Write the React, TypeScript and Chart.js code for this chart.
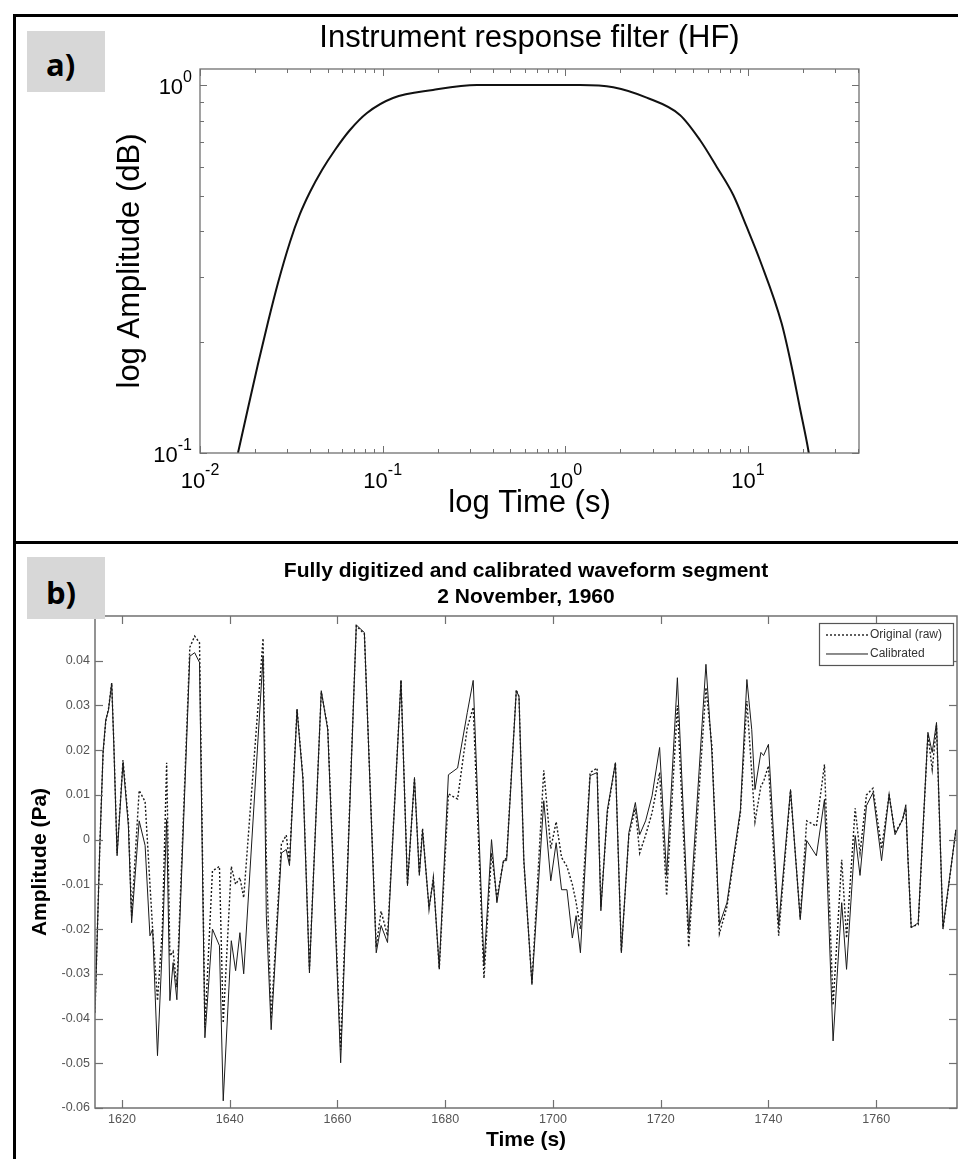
import React, { useEffect, useRef } from 'react';
import { Chart, registerables } from 'chart.js';

Chart.register(...registerables);

const FONT = "'Liberation Sans', Arial, Helvetica, sans-serif";

// ---------- Panel a: instrument response ----------
const respPeriod = [0.01614, 0.01832, 0.02077, 0.02357, 0.02672, 0.03109, 0.03526, 0.04, 0.04654, 0.05481, 0.06622, 0.08204, 0.1139, 0.1885, 0.3282, 1.0, 1.202, 1.829, 2.786, 4.238, 5.455, 6.73, 8.3, 9.82, 11.61, 15.27, 17.33, 19.23, 21.37, 21.6];
const respAmp = [0.1, 0.1325, 0.1745, 0.227, 0.2897, 0.3745, 0.4461, 0.5119, 0.5875, 0.6659, 0.7545, 0.8393, 0.9219, 0.9692, 1.0, 1.0, 1.0, 0.9857, 0.9236, 0.829, 0.7087, 0.5998, 0.5024, 0.412, 0.3345, 0.2251, 0.1716, 0.1325, 0.1019, 0.0985];
const aXDecades = [0.01, 0.1, 1, 10];
const aXExp = ['-2', '-1', '0', '1'];
const aYDecades = [0.1, 1];
const aYExp = ['-1', '0'];

// ---------- Panel b: waveform ----------
const timeS = [1615.0, 1615.9, 1616.5, 1617.0, 1617.5, 1618.1, 1618.5, 1619.1, 1620.2, 1621.2, 1621.8, 1623.2, 1624.3, 1625.2, 1625.7, 1626.6, 1627.5, 1628.3, 1628.9, 1629.5, 1630.2, 1632.6, 1633.5, 1634.4, 1635.4, 1636.8, 1638.1, 1638.8, 1640.3, 1641.1, 1641.9, 1642.6, 1646.2, 1646.8, 1647.7, 1649.6, 1650.5, 1651.1, 1652.5, 1653.6, 1654.8, 1657.0, 1658.2, 1660.6, 1663.5, 1665.0, 1667.2, 1668.1, 1669.3, 1671.8, 1673.0, 1674.3, 1675.2, 1675.8, 1677.0, 1677.8, 1678.9, 1680.6, 1682.3, 1684.1, 1685.2, 1687.2, 1688.6, 1689.6, 1690.8, 1691.4, 1693.2, 1693.7, 1694.6, 1696.1, 1698.3, 1699.6, 1700.6, 1701.6, 1702.6, 1703.6, 1704.3, 1705.1, 1706.9, 1708.2, 1708.9, 1710.1, 1711.6, 1712.7, 1714.1, 1715.3, 1716.1, 1717.2, 1718.4, 1719.8, 1721.1, 1723.1, 1725.2, 1728.4, 1729.5, 1730.9, 1732.3, 1734.8, 1736.0, 1736.9, 1737.5, 1738.6, 1739.1, 1740.0, 1741.9, 1744.1, 1745.9, 1747.1, 1748.9, 1750.4, 1752.0, 1753.6, 1754.5, 1756.1, 1757.0, 1758.2, 1759.4, 1761.0, 1762.4, 1763.5, 1764.9, 1765.5, 1765.9, 1766.5, 1767.8, 1769.6, 1770.4, 1771.2, 1772.4, 1774.8];
const calibrated = [-0.0387, -0.0013, 0.0195, 0.0268, 0.029, 0.035, 0.021, -0.0036, 0.0172, 0.003, -0.0186, 0.0042, -0.0013, -0.0215, -0.02, -0.0483, -0.0237, 0.0045, -0.036, -0.0275, -0.0358, 0.041, 0.0418, 0.0396, -0.0443, -0.02, -0.0237, -0.0584, -0.0226, -0.0293, -0.0208, -0.03, 0.041, -0.017, -0.0425, -0.003, -0.0022, -0.0058, 0.029, 0.0134, -0.0298, 0.0333, 0.0246, -0.0499, 0.048, 0.0463, -0.0253, -0.0192, -0.023, 0.0356, -0.0103, 0.0139, -0.008, 0.002, -0.0152, -0.009, -0.0286, 0.0145, 0.016, 0.0284, 0.0356, -0.0282, 0.0, -0.0141, -0.0047, -0.0047, 0.0333, 0.032, -0.0045, -0.0324, 0.0087, -0.0092, -0.0007, -0.0112, -0.0112, -0.022, -0.017, -0.0253, 0.0143, 0.015, -0.0159, 0.0067, 0.0172, -0.0253, 0.0016, 0.0083, 0.0011, 0.0042, 0.0098, 0.0206, -0.008, 0.0362, -0.0208, 0.0392, 0.0195, -0.019, -0.0141, 0.0067, 0.0358, 0.0246, 0.0112, 0.0195, 0.0188, 0.0213, -0.0192, 0.0112, -0.0179, -0.0002, -0.0036, 0.009, -0.045, -0.0141, -0.029, 0.0009, -0.008, 0.0076, 0.0105, -0.0047, 0.0101, 0.0011, 0.0045, 0.0078, -0.0045, -0.0197, -0.0186, 0.024, 0.0195, 0.0262, -0.0197, 0.0022];
const originalRaw = [-0.0387, -0.0013, 0.0195, 0.0265, 0.0292, 0.035, 0.0215, -0.003, 0.0178, 0.004, -0.017, 0.011, 0.0085, -0.01, -0.02, -0.036, -0.02, 0.0172, -0.026, -0.025, -0.033, 0.043, 0.0455, 0.044, -0.042, -0.007, -0.006, -0.041, -0.006, -0.01, -0.0085, -0.013, 0.045, -0.004, -0.04, -0.001, 0.001, -0.005, 0.0292, 0.014, -0.029, 0.033, 0.025, -0.047, 0.0478, 0.046, -0.024, -0.016, -0.0215, 0.0356, -0.01, 0.0135, -0.0075, 0.0025, -0.0155, -0.0085, -0.029, 0.0102, 0.0091, 0.025, 0.0296, -0.031, -0.003, -0.013, -0.005, -0.004, 0.0335, 0.032, -0.005, -0.032, 0.0155, -0.002, 0.004, -0.004, -0.006, -0.01, -0.014, -0.02, 0.015, 0.016, -0.015, 0.006, 0.0172, -0.025, 0.001, 0.007, -0.003, 0.001, 0.006, 0.015, -0.0125, 0.03, -0.024, 0.034, 0.021, -0.021, -0.015, 0.006, 0.031, 0.015, 0.004, 0.012, 0.013, 0.0165, -0.0215, 0.011, -0.0175, 0.0042, 0.003, 0.0168, -0.037, -0.0045, -0.022, 0.007, -0.003, 0.01, 0.0115, -0.002, 0.01, 0.0015, 0.0045, 0.007, -0.004, -0.0195, -0.019, 0.0235, 0.0157, 0.0255, -0.02, 0.0022];
const bXTicks = [1620, 1640, 1660, 1680, 1700, 1720, 1740, 1760];
const bYTicks = [-0.06, -0.05, -0.04, -0.03, -0.02, -0.01, 0, 0.01, 0.02, 0.03, 0.04];

const AXIS_COLOR = '#707070';

function seg(ctx: CanvasRenderingContext2D, x1: number, y1: number, x2: number, y2: number) {
  ctx.beginPath();
  ctx.moveTo(x1, y1);
  ctx.lineTo(x2, y2);
  ctx.stroke();
}

function drawPow(ctx: CanvasRenderingContext2D, exp: string, x: number, yBase: number, raise: number, align: 'center' | 'right') {
  ctx.font = `22px ${FONT}`;
  const wb = ctx.measureText('10').width;
  ctx.font = `16px ${FONT}`;
  const we = ctx.measureText(exp).width;
  const left = align === 'center' ? x - (wb + we) / 2 : x - wb - we;
  ctx.fillStyle = '#000';
  ctx.textAlign = 'left';
  ctx.textBaseline = 'alphabetic';
  ctx.font = `22px ${FONT}`;
  ctx.fillText('10', left, yBase);
  ctx.font = `16px ${FONT}`;
  ctx.fillText(exp, left + wb, yBase - raise);
}

const panelAAxes = {
  id: 'panelAAxes',
  afterDatasetsDraw(chart: any) {
    const { ctx, chartArea: ca, scales } = chart;
    const xs = scales.x;
    const ys = scales.y;
    ctx.save();
    ctx.strokeStyle = AXIS_COLOR;
    ctx.lineWidth = 1.3;
    ctx.strokeRect(ca.left, ca.top, ca.right - ca.left, ca.bottom - ca.top);
    ctx.lineWidth = 1;
    aXDecades.forEach((d) => {
      for (let m = 1; m <= 9; m++) {
        const v = d * m;
        if (v < xs.min * 0.999 || v > xs.max) continue;
        const px = Math.round(xs.getPixelForValue(v)) + 0.5;
        const len = m === 1 ? 7 : 4;
        seg(ctx, px, ca.bottom, px, ca.bottom - len);
        seg(ctx, px, ca.top, px, ca.top + len);
      }
    });
    aYDecades.forEach((d) => {
      for (let m = 1; m <= 9; m++) {
        const v = d * m;
        if (v < ys.min * 0.999 || v > ys.max) continue;
        const py = Math.round(ys.getPixelForValue(v)) + 0.5;
        const len = m === 1 ? 7 : 4;
        seg(ctx, ca.left, py, ca.left + len, py);
        seg(ctx, ca.right, py, ca.right - len, py);
      }
    });
    aXDecades.forEach((d, i) => drawPow(ctx, aXExp[i], xs.getPixelForValue(d), ca.bottom + 35, 13, 'center'));
    aYDecades.forEach((d, i) => drawPow(ctx, aYExp[i], ca.left - 8, ys.getPixelForValue(d) + 9, 12, 'right'));
    ctx.restore();
  },
};

const panelBAxes = {
  id: 'panelBAxes',
  afterDatasetsDraw(chart: any) {
    const { ctx, chartArea: ca, scales } = chart;
    const xs = scales.x;
    const ys = scales.y;
    ctx.save();
    ctx.strokeStyle = AXIS_COLOR;
    ctx.lineWidth = 1.5;
    ctx.strokeRect(ca.left, ca.top, ca.right - ca.left, ca.bottom - ca.top);
    ctx.lineWidth = 1.2;
    bXTicks.forEach((v) => {
      const px = Math.round(xs.getPixelForValue(v)) + 0.5;
      seg(ctx, px, ca.bottom, px, ca.bottom - 8);
      seg(ctx, px, ca.top, px, ca.top + 8);
    });
    bYTicks.forEach((v) => {
      const py = Math.round(ys.getPixelForValue(v)) + 0.5;
      seg(ctx, ca.left, py, ca.left + 8, py);
      seg(ctx, ca.right, py, ca.right - 8, py);
    });
    // legend box
    const bw = 134;
    const bh = 42;
    const bx = ca.right - 4 - bw;
    const by = ca.top + 7;
    ctx.fillStyle = '#fff';
    ctx.fillRect(bx, by, bw, bh);
    ctx.strokeStyle = '#555';
    ctx.lineWidth = 1.2;
    ctx.strokeRect(bx + 0.5, by + 0.5, bw, bh);
    ctx.font = `12px ${FONT}`;
    ctx.textBaseline = 'middle';
    ctx.textAlign = 'left';
    chart.data.datasets.forEach((ds: any, i: number) => {
      const y = by + 12 + i * 19;
      ctx.strokeStyle = ds.borderColor;
      ctx.lineWidth = ds.borderWidth;
      ctx.setLineDash(ds.borderDash || []);
      seg(ctx, bx + 7, y, bx + 49, y);
      ctx.setLineDash([]);
      ctx.fillStyle = '#333';
      ctx.fillText(ds.label, bx + 51, y);
    });
    ctx.restore();
  },
};

export default function App() {
  const refA = useRef<HTMLCanvasElement>(null);
  const refB = useRef<HTMLCanvasElement>(null);

  useEffect(() => {
    const hidden = { display: false, drawTicks: false };
    const chartA = new Chart(refA.current as HTMLCanvasElement, {
      type: 'line',
      data: {
        datasets: [
          {
            label: 'Instrument response',
            data: respPeriod.map((x, i) => ({ x, y: respAmp[i] })),
            borderColor: '#111',
            borderWidth: 2,
            pointRadius: 0,
            fill: false,
            cubicInterpolationMode: 'monotone',
          },
        ],
      },
      options: {
        responsive: false,
        animation: false,
        devicePixelRatio: 1,
        events: [],
        layout: { padding: { left: 0, right: 99, top: 0, bottom: 0 } },
        plugins: {
          legend: { display: false },
          tooltip: { enabled: false },
          title: {
            display: true,
            text: 'Instrument response filter (HF)',
            fullSize: false,
            color: '#000',
            font: { family: FONT, size: 31, weight: 'normal', lineHeight: 1.2 },
            padding: { top: 20, bottom: 11.8 },
          },
        },
        scales: {
          x: {
            type: 'logarithmic',
            position: 'bottom',
            min: 0.01,
            max: 40.5,
            grid: hidden,
            border: { display: false },
            ticks: { display: false },
            title: {
              display: true,
              text: 'log Time (s)',
              color: '#000',
              font: { family: FONT, size: 31, weight: 'normal', lineHeight: 1.2 },
              padding: { top: 0, bottom: 18.4 },
            },
            afterFit: (s: any) => { s.height = 87; },
          },
          y: {
            type: 'logarithmic',
            position: 'left',
            min: 0.1,
            max: 1.105,
            grid: hidden,
            border: { display: false },
            ticks: { display: false },
            title: {
              display: true,
              text: 'log Amplitude (dB)',
              color: '#000',
              font: { family: FONT, size: 31, weight: 'normal', lineHeight: 1.2 },
              padding: { top: 112, bottom: 0 },
            },
            afterFit: (s: any) => { s.width = 200; },
          },
        },
      } as any,
      plugins: [panelAAxes],
    });

    const chartB = new Chart(refB.current as HTMLCanvasElement, {
      type: 'line',
      data: {
        datasets: [
          {
            label: 'Original (raw)',
            data: timeS.map((x, i) => ({ x, y: originalRaw[i] })),
            borderColor: '#1a1a1a',
            borderWidth: 1.4,
            borderDash: [2, 2],
            pointRadius: 0,
            tension: 0,
            fill: false,
          },
          {
            label: 'Calibrated',
            data: timeS.map((x, i) => ({ x, y: calibrated[i] })),
            borderColor: '#1a1a1a',
            borderWidth: 1,
            pointRadius: 0,
            tension: 0,
            fill: false,
          },
        ],
      },
      options: {
        responsive: false,
        animation: false,
        devicePixelRatio: 1,
        events: [],
        layout: { padding: { left: 0, right: 1, top: 0, bottom: 0 } },
        plugins: {
          legend: { display: false },
          tooltip: { enabled: false },
          title: {
            display: true,
            text: ['Fully digitized and calibrated waveform segment', '2 November, 1960'],
            fullSize: false,
            color: '#000',
            font: { family: FONT, size: 21, weight: 'bold', lineHeight: 1.238 },
            padding: { top: 13, bottom: 6 },
          },
        },
        scales: {
          x: {
            type: 'linear',
            position: 'bottom',
            min: 1615,
            max: 1775,
            grid: hidden,
            border: { display: false },
            afterBuildTicks: (s: any) => { s.ticks = bXTicks.map((value) => ({ value })); },
            ticks: {
              color: '#555',
              font: { family: FONT, size: 12.5 },
              padding: 4,
              maxRotation: 0,
              autoSkip: false,
              callback: (v: any) => String(v),
            },
            title: {
              display: true,
              text: 'Time (s)',
              color: '#000',
              font: { family: FONT, size: 21, weight: 'bold', lineHeight: 1.2 },
              padding: { top: 0, bottom: 6.4 },
            },
            afterFit: (s: any) => { s.height = 51; },
          },
          y: {
            type: 'linear',
            position: 'left',
            min: -0.06,
            max: 0.05,
            grid: hidden,
            border: { display: false },
            afterBuildTicks: (s: any) => { s.ticks = bYTicks.map((value) => ({ value })); },
            ticks: {
              color: '#555',
              font: { family: FONT, size: 12.5 },
              padding: 5,
              autoSkip: false,
              callback: (v: any) => String(parseFloat(Number(v).toFixed(2))),
            },
            title: {
              display: true,
              text: 'Amplitude (Pa)',
              color: '#000',
              font: { family: FONT, size: 21, weight: 'bold', lineHeight: 1.2 },
              padding: { top: 27.4, bottom: 0 },
            },
            afterFit: (s: any) => { s.width = 95; },
          },
        },
      } as any,
      plugins: [panelBAxes],
    });

    return () => {
      chartA.destroy();
      chartB.destroy();
    };
  }, []);

  const abs = (l: number, t: number, w: number, h: number, bg: string): React.CSSProperties => ({
    position: 'absolute', left: l, top: t, width: w, height: h, background: bg,
  });
  const labelStyle = (t: number): React.CSSProperties => ({
    position: 'absolute', left: 46, top: t, fontFamily: "'Open Sans', sans-serif", fontWeight: 700,
    fontSize: 31, lineHeight: '31px', color: '#000', whiteSpace: 'nowrap',
  });

  return (
    <div style={{ position: 'absolute', left: 0, top: 0, width: 958, height: 1159, background: '#fff', overflow: 'hidden' }}>
      <canvas ref={refA} width={958} height={540} style={{ position: 'absolute', left: 0, top: 0, width: 958, height: 540 }} />
      <canvas ref={refB} width={958} height={614} style={{ position: 'absolute', left: 0, top: 545, width: 958, height: 614 }} />
      <div style={abs(13, 14, 945, 3, '#000')} />
      <div style={abs(13, 14, 3, 1145, '#000')} />
      <div style={abs(13, 541, 945, 3, '#000')} />
      <div style={abs(27, 31, 78, 61, '#d7d7d7')} />
      <div style={abs(27, 557, 78, 62, '#d7d7d7')} />
      <div style={labelStyle(48.5)}>a)</div>
      <div style={labelStyle(576.5)}>b)</div>
    </div>
  );
}
